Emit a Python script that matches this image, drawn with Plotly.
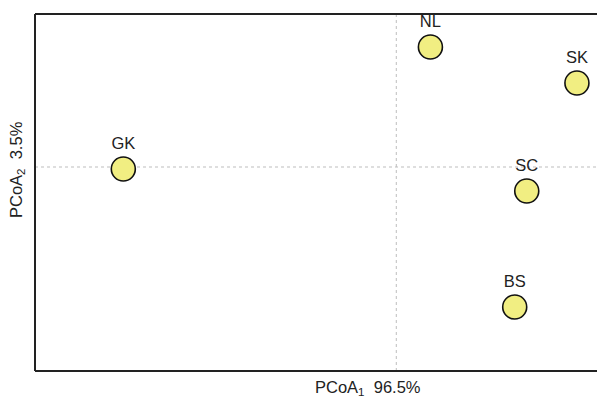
import plotly.graph_objects as go

# PCoA site scores
sites = ["GK", "NL", "SK", "SC", "BS"]
pc1 = [-0.68, 0.085, 0.45, 0.325, 0.295]
pc2 = [-0.005, 0.30, 0.21, -0.06, -0.35]

x_range = [-0.9, 0.5]
y_range = [-0.51, 0.3825]

FONT = "Liberation Sans, Arial, sans-serif"

fig = go.Figure()

fig.add_trace(go.Scatter(
    x=pc1, y=pc2, mode="markers+text",
    text=sites, textposition="top center",
    textfont=dict(family=FONT, size=16.5, color="#222222"),
    marker=dict(size=24, color="#F1EE82", line=dict(color="#111111", width=1.6)),
    cliponaxis=False, showlegend=False,
))

fig.update_xaxes(range=x_range, showgrid=False, zeroline=False,
                 showticklabels=False, ticks="", showline=False)
fig.update_yaxes(range=y_range, showgrid=False, zeroline=False,
                 showticklabels=False, ticks="", showline=False)

# dotted origin lines
fig.add_shape(type="line", xref="x", yref="paper", x0=0, x1=0, y0=0, y1=1,
              line=dict(color="#BDBDBD", width=1, dash="dot"), layer="below")
fig.add_shape(type="line", xref="paper", yref="y", x0=0, x1=1, y0=0, y1=0,
              line=dict(color="#BDBDBD", width=1, dash="dot"), layer="below")

# frame: left, top, bottom
frame = dict(color="#222222", width=2)
fig.add_shape(type="line", xref="paper", yref="paper", x0=0, x1=0, y0=0, y1=1, line=frame)
fig.add_shape(type="line", xref="paper", yref="paper", x0=0, x1=1.0, y0=1, y1=1, line=frame)
fig.add_shape(type="line", xref="paper", yref="paper", x0=0, x1=1.0, y0=0, y1=0, line=frame)

font = dict(family=FONT, size=16.5, color="#222222")
fig.add_annotation(text="PCoA<sub>1</sub>  96.5%", xref="paper", yref="paper",
                   x=0.593, y=0, xanchor="center", yanchor="top", yshift=-5,
                   showarrow=False, font=font)
fig.add_annotation(text="PCoA<sub>2</sub>  3.5%", xref="paper", yref="paper",
                   x=0, y=0.563, xanchor="right", yanchor="middle", xshift=-6,
                   textangle=-90, showarrow=False, font=font)

fig.update_layout(
    width=597, height=401,
    margin=dict(l=35, r=0, t=14, b=30),
    plot_bgcolor="white", paper_bgcolor="white",
)

fig.write_html("out.html")
